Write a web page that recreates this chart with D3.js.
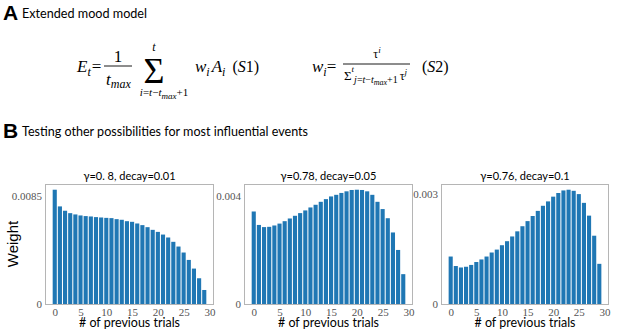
<!DOCTYPE html>
<html>
<head>
<meta charset="utf-8">
<script src="https://cdn.jsdelivr.net/npm/d3@7"></script>
<style>
  html, body { margin: 0; padding: 0; background: #fff; }
  svg { display: block; }
</style>
</head>
<body>
<svg id="chart" width="617" height="332"></svg>
<script>
// ---------------- DATA ----------------
const trials = d3.range(30); // # of previous trials 0..29
const xTickValues = [0, 5, 10, 15, 20, 25, 30];

const titles = ["\u03b3=0. 8, decay=0.01", "\u03b3=0.78, decay=0.05", "\u03b3=0.76, decay=0.1"];

const weights1 = [0.00897, 0.00766, 0.00732, 0.00713, 0.00703, 0.00695, 0.00690, 0.00687, 0.00682, 0.00679,
                  0.00676, 0.00674, 0.00666, 0.00661, 0.00650, 0.00645, 0.00632, 0.00619, 0.00603, 0.00582,
                  0.00566, 0.00545, 0.00522, 0.00488, 0.00451, 0.00404, 0.00346, 0.00278, 0.00202, 0.00110];
const weights2 = [0.00344, 0.00294, 0.00286, 0.00287, 0.00292, 0.00299, 0.00308, 0.00318, 0.00328, 0.00338,
                  0.00348, 0.00359, 0.00369, 0.00380, 0.00390, 0.00400, 0.00406, 0.00413, 0.00419, 0.00424,
                  0.00425, 0.00424, 0.00419, 0.00406, 0.00380, 0.00353, 0.00319, 0.00266, 0.00201, 0.00111];
const weights3 = [0.00130, 0.00104, 0.00100, 0.00102, 0.00107, 0.00115, 0.00122, 0.00130, 0.00141, 0.00149,
                  0.00161, 0.00172, 0.00185, 0.00199, 0.00213, 0.00227, 0.00241, 0.00255, 0.00269, 0.00281,
                  0.00294, 0.00304, 0.00311, 0.00313, 0.00310, 0.00301, 0.00277, 0.00242, 0.00187, 0.00110];

const yTicks1 = [0, 0.0085], yTickLabels1 = ["0", "0.0085"];
const yTicks2 = [0, 0.004],  yTickLabels2 = ["0", "0.004"];
const yTicks3 = [0, 0.003],  yTickLabels3 = ["0", "0.003"];

// ---------------- LAYOUT ----------------
const svg = d3.select("#chart");
const BAR = "#1f77b4";
const FRAME = "#b5b5b5";
const sansFont = "Lato, 'Open Sans', sans-serif";
const serifFont = "'Liberation Serif', 'DejaVu Serif', serif";

const panels = [
  {x0: 45,  x1: 214, data: weights1, ticks: yTicks1, labels: yTickLabels1, title: titles[0]},
  {x0: 244, x1: 413, data: weights2, ticks: yTicks2, labels: yTickLabels2, title: titles[1]},
  {x0: 441, x1: 609, data: weights3, ticks: yTicks3, labels: yTickLabels3, title: titles[2]}
];
const yTop = 184, yBot = 304;

// ---------------- HEADINGS ----------------
svg.append("text").attr("x", 3).attr("y", 20)
  .attr("font-family", "'Liberation Sans', Arial, sans-serif").attr("font-weight", "bold")
  .attr("font-size", 21).text("A");
svg.append("text").attr("x", 22).attr("y", 18)
  .attr("font-family", sansFont).attr("font-size", 14)
  .attr("textLength", 125).attr("lengthAdjust", "spacingAndGlyphs")
  .text("Extended mood model");

svg.append("text").attr("x", 3).attr("y", 138)
  .attr("font-family", "'Liberation Sans', Arial, sans-serif").attr("font-weight", "bold")
  .attr("font-size", 21).text("B");
svg.append("text").attr("x", 22).attr("y", 136)
  .attr("font-family", sansFont).attr("font-size", 14)
  .attr("textLength", 286).attr("lengthAdjust", "spacingAndGlyphs")
  .text("Testing other possibilities for most influential events");

// ---------------- FORMULAS ----------------
const mathFont = serifFont;
// one <text> per formula fragment, pieces as positioned tspans
function seq(x, baseline, parts, center) {
  const t = svg.append("text").attr("font-family", mathFont);
  const spans = parts.map(p => t.append("tspan")
    .attr("font-size", p.size)
    .attr("font-style", p.it ? "italic" : "normal")
    .text(p.t));
  const widths = spans.map(s => s.node().getComputedTextLength());
  const total = d3.sum(widths) + d3.sum(parts, p => p.gap || 0);
  let cx = center ? x - total / 2 : x;
  spans.forEach((s, i) => {
    s.attr("x", cx).attr("y", baseline + (parts[i].dy || 0));
    cx += widths[i] + (parts[i].gap || 0);
  });
  return cx;
}

// (S1)
seq(77, 72, [{t: "E", size: 17, it: true}, {t: "t", size: 12, it: true, dy: 4, gap: 1}, {t: "=", size: 17}]);
seq(118, 62, [{t: "1", size: 17}], true);
svg.append("line").attr("x1", 104).attr("x2", 132).attr("y1", 66).attr("y2", 66)
  .attr("stroke", "#000").attr("stroke-width", 0.9);
seq(106, 85, [{t: "t", size: 17, it: true}, {t: "max", size: 12, it: true, dy: 3}]);
seq(154, 83, [{t: "\u03a3", size: 36}], true);
seq(154, 51, [{t: "t", size: 12, it: true}], true);
seq(164, 96, [{t: "i", size: 11, it: true}, {t: "=", size: 11}, {t: "t", size: 11, it: true}, {t: "\u2212", size: 11},
              {t: "t", size: 11, it: true}, {t: "max", size: 9, it: true, dy: 3}, {t: "+1", size: 11}], true);
seq(195, 72, [{t: "w", size: 17, it: true}, {t: "i", size: 12, it: true, dy: 4, gap: 2},
              {t: "A", size: 17, it: true}, {t: "i", size: 12, it: true, dy: 4, gap: 7},
              {t: "(", size: 16}, {t: "S", size: 16, it: true}, {t: "1", size: 16}, {t: ")", size: 16}]);

// (S2)
seq(312, 72, [{t: "w", size: 17, it: true}, {t: "i", size: 12, it: true, dy: 4}, {t: "=", size: 17}]);
seq(377, 58, [{t: "\u03c4", size: 12}, {t: "i", size: 9, it: true, dy: -5}], true);
svg.append("line").attr("x1", 343).attr("x2", 410).attr("y1", 64).attr("y2", 64)
  .attr("stroke", "#000").attr("stroke-width", 0.9);
seq(344, 80, [{t: "\u03a3", size: 13}, {t: "t", size: 9, it: true, dy: -8},
              {t: "j", size: 10, it: true, dy: 3}, {t: "=", size: 10, dy: 3}, {t: "t", size: 10, it: true, dy: 3},
              {t: "\u2212", size: 10, dy: 3}, {t: "t", size: 10, it: true, dy: 3}, {t: "max", size: 8, it: true, dy: 5},
              {t: "+1", size: 10, dy: 3, gap: 2}, {t: "\u03c4", size: 12}, {t: "j", size: 9, it: true, dy: -5}]);
seq(422, 72, [{t: "(", size: 16}, {t: "S", size: 16, it: true}, {t: "2", size: 16}, {t: ")", size: 16}]);

// ---------------- PANELS ----------------
panels.forEach((p, k) => {
  const x = d3.scaleLinear().domain([-1.89, 30.89]).range([p.x0, p.x1]);
  const y = d3.scaleLinear().domain([0, d3.max(p.data) * 1.05]).range([yBot, yTop]);
  const g = svg.append("g");

  g.selectAll("rect.bar").data(p.data).join("rect")
    .attr("class", "bar")
    .attr("x", (d, i) => x(trials[i] - 0.4))
    .attr("width", x(0.8) - x(0))
    .attr("y", d => y(d))
    .attr("height", d => y(0) - y(d))
    .attr("fill", BAR);

  // frame
  g.append("rect").attr("x", p.x0 + 0.5).attr("y", yTop + 0.5)
    .attr("width", p.x1 - p.x0 - 1).attr("height", yBot - yTop)
    .attr("fill", "none").attr("stroke", FRAME).attr("stroke-width", 1);

  // axes
  const yAxis = d3.axisLeft(y).tickValues(p.ticks).tickFormat((d, i) => p.labels[i])
    .tickSize(0).tickPadding(3);
  const ya = g.append("g").attr("transform", `translate(${p.x0},0)`).call(yAxis);
  ya.select(".domain").remove();
  ya.selectAll("text").attr("font-family", serifFont).attr("font-size", 11).attr("fill", "#555");

  const xAxis = d3.axisBottom(x).tickValues(xTickValues).tickFormat(d3.format("d"))
    .tickSize(0).tickPadding(4);
  const xa = g.append("g").attr("transform", `translate(0,${yBot})`).call(xAxis);
  xa.select(".domain").remove();
  xa.selectAll("text").attr("font-family", serifFont).attr("font-size", 11).attr("fill", "#555");

  // title
  g.append("text").attr("x", (p.x0 + p.x1) / 2).attr("y", 180)
    .attr("text-anchor", "middle").attr("font-family", sansFont).attr("font-size", 11)
    .text(p.title);

  // x label
  g.append("text").attr("x", (p.x0 + p.x1) / 2).attr("y", 327)
    .attr("text-anchor", "middle").attr("font-family", sansFont).attr("font-size", 13)
    .attr("textLength", 101).attr("lengthAdjust", "spacingAndGlyphs")
    .text("# of previous trials");
});

// y label
svg.append("text").attr("transform", "translate(18,244) rotate(-90)")
  .attr("text-anchor", "middle").attr("font-family", "'Liberation Sans Narrow', 'Liberation Sans', Arial, sans-serif")
  .attr("font-size", 15).text("Weight");
</script>
</body>
</html>
